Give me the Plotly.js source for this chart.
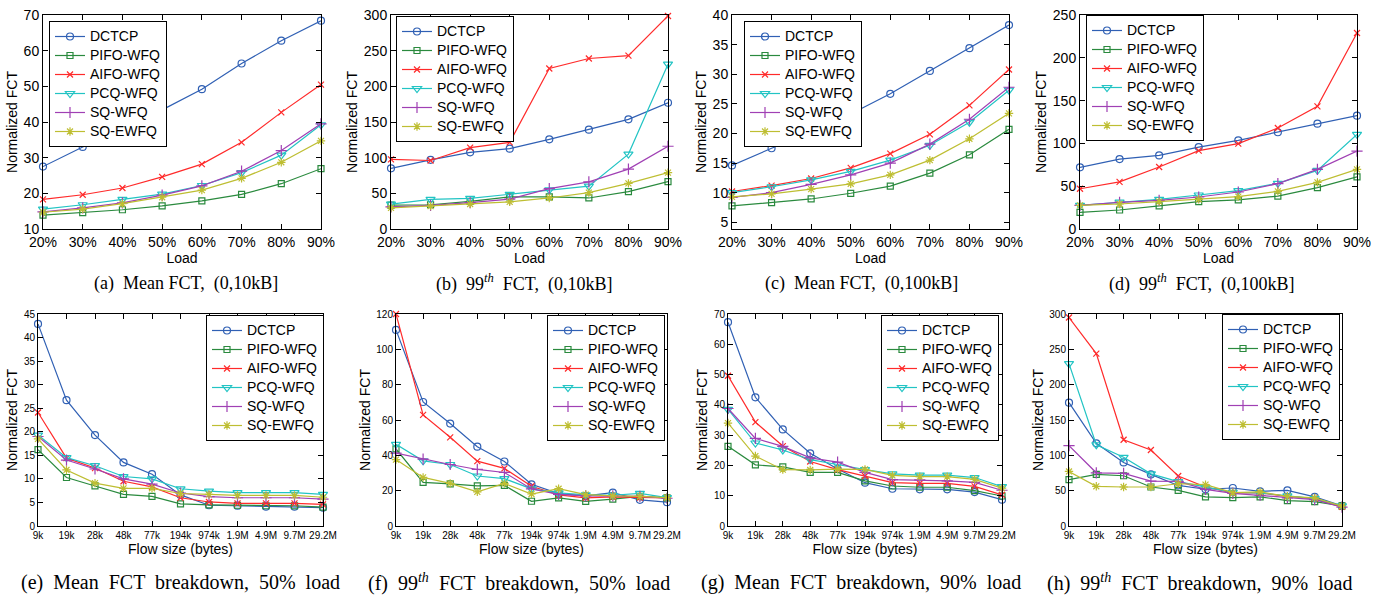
<!DOCTYPE html>
<html>
<head>
<meta charset="utf-8">
<script src="https://cdn.plot.ly/plotly-3.0.1.min.js"></script>
<style>html,body{margin:0;padding:0;background:#fff;}#chart{width:1383px;height:595px;}</style>
</head>
<body>
<div id="chart"></div>
<script>
// ---------- categories ----------
const schemes = ['DCTCP','PIFO-WFQ','AIFO-WFQ','PCQ-WFQ','SQ-WFQ','SQ-EWFQ'];
const loads = ['20%','30%','40%','50%','60%','70%','80%','90%'];
const sizes = ['9k','19k','28k','48k','77k','194k','974k','1.9M','4.9M','9.7M','29.2M'];

// ---------- (a) Mean FCT, (0,10kB] ----------
const meanSmall = [
  [27.5,33.0,38.2,43.4,49.2,56.4,62.8,68.4],
  [13.9,14.6,15.4,16.5,17.9,19.7,22.7,26.9],
  [18.3,19.6,21.5,24.6,28.2,34.3,42.7,50.5],
  [15.6,16.8,18.3,19.8,22.2,25.8,30.7,39.2],
  [14.8,15.9,17.3,19.5,22.1,26.2,32.0,39.5],
  [14.7,15.6,17.1,18.9,20.9,24.2,28.7,34.7]
];
// ---------- (b) 99th FCT, (0,10kB] ----------
const tailSmall = [
  [85,97,107.5,112.6,125.7,139.3,153.7,177],
  [33.6,34,38.8,45,45,43.5,52.3,66.4],
  [97.5,96,114,121.5,225,239,243,298.6],
  [35,41.6,43,48.6,55,60,105,231],
  [31,33,37,42,56.5,66,84,116],
  [29.5,32,35,38,43.5,51,64,79]
];
// ---------- (c) Mean FCT, (0,100kB] ----------
const meanMid = [
  [14.6,17.5,20.2,23.3,26.7,30.55,34.4,38.3],
  [7.76,8.32,8.94,9.9,11.1,13.3,16.4,20.7],
  [10.2,11.2,12.4,14.2,16.6,19.85,24.75,30.8],
  [10.0,11.0,12.15,13.6,15.5,18.0,21.9,27.3],
  [9.2,10.0,11.4,13.0,15.0,18.2,22.4,27.8],
  [9.3,9.8,10.6,11.5,13.0,15.5,19.1,23.4]
];
// ---------- (d) 99th FCT, (0,100kB] ----------
const tailMid = [
  [72,81.7,86,95.7,103.6,113,123,132.4],
  [19.5,22.2,26.9,32,34,38.5,48.3,61],
  [47,55,72.4,91.5,99.7,118,143.3,229],
  [27.6,31.5,34.7,39.7,44.8,53.3,68.5,110.6],
  [27.6,31,33.5,37.4,43.2,53,69.7,91],
  [27.6,29.2,32,34.7,37.8,44,54.5,69.7]
];
// ---------- (e) Mean FCT breakdown, 50% load ----------
const meanBd50 = [
  [42.9,26.7,19.3,13.5,11.0,6.6,4.4,4.3,4.1,4.1,3.9],
  [16.2,10.3,8.5,6.7,6.3,4.7,4.5,4.4,4.3,4.3,4.0],
  [24.1,14.4,12.3,9.5,8.3,6.0,5.1,4.8,4.8,4.8,4.6],
  [19.3,14.5,12.8,10.5,10.0,7.9,7.4,7.1,7.1,7.1,6.7],
  [19.0,14.0,12.1,10.0,8.9,7.0,6.25,6.0,6.0,6.0,5.7],
  [18.5,11.9,9.1,8.0,8.0,6.9,6.7,6.5,6.5,6.5,6.1]
];
// ---------- (f) 99th FCT breakdown, 50% load ----------
const tailBd50 = [
  [111,70.2,58,44.9,36.5,23.6,18.3,17,18.9,14.8,13.5],
  [43.6,24.7,23.8,22.7,23,14,15.9,13.9,15.2,16.8,15.9],
  [120,62.9,50.2,36.7,32.6,22.5,17.6,15.9,16.5,16.1,15.9],
  [46.2,36.9,34.8,28.3,26.8,21,18.7,17.6,17.4,18.5,16.1],
  [41.2,37.8,34.8,32,30.3,21,17.9,17,17,16.8,15.7],
  [37.6,27.5,24.1,19.3,24.1,18.1,21.1,17.8,17,16.8,16.1]
];
// ---------- (g) Mean FCT breakdown, 90% load ----------
const meanBd90 = [
  [67.3,42.5,31.9,24.0,18.8,14.3,12.3,12.1,12.1,11.2,8.7],
  [26.3,20.2,19.5,17.7,17.7,14.9,13.2,12.8,12.8,11.7,9.9],
  [49.6,34.3,26.4,21.3,18.6,16.5,14.3,14.1,14.1,13.1,10.3],
  [38.5,27.4,25.1,21.9,20.3,18.6,17.2,16.8,16.8,16.0,13.0],
  [38.8,28.9,26.3,22.5,21.1,17.7,15.3,15.2,14.9,14.4,11.8],
  [34.0,23.1,18.6,18.5,18.8,18.7,16.7,16.3,16.3,15.4,12.5]
];
// ---------- (h) 99th FCT breakdown, 90% load ----------
const tailBd90 = [
  [174.5,117,89.9,73,57.4,52,53.8,49.1,50.5,41.2,28.5],
  [65.5,73,71.1,55.2,50.5,41.2,40.2,41.2,36,34.6,28.5],
  [295,244,122,107.6,70.7,55.2,46.7,46.7,42,38.8,27.1],
  [229.8,115,97.2,73.8,62.7,54.7,47.7,46.7,42.6,38.8,28.5],
  [113.7,75.3,74.4,63.6,63.2,51.9,46.3,43.5,39.8,37.4,26.7],
  [77.2,56.2,55.2,55.2,59.8,58.5,47.3,48.2,42,39.8,28]
];

// ---------- styling ----------
const colors = ['#3060b4','#2a8a3e','#ff2a2a','#22c4c4','#a040b4','#bebe32'];
const symbols = ['circle-open','square-open','x-thin-open','triangle-down-open','cross-thin-open','asterisk-open'];
const msizes = [7,6,6,8,8,7];

const W = 1383, H = 595;
const px = v => v / W;
const py = v => 1 - v / H;
const SP = ' &nbsp;';

const panels = [
  {cats: loads, data: meanSmall, box:[43,15,321,229], yr:[10,70], dt:10, t0:10, leg:[49,21], la:'left', xt:'Load', big:true,
   cap:'(a)' + SP + 'Mean FCT,' + SP + '(0,10kB]', cx:186, cy:283},
  {cats: loads, data: tailSmall, box:[391,15,668,229], yr:[0,300], dt:50, t0:0, leg:[396,16], la:'left', xt:'Load', big:true,
   cap:'(b)' + SP + '99<sup><i>th</i></sup>' + SP + 'FCT,' + SP + '(0,10kB]', cx:524, cy:283},
  {cats: loads, data: meanMid, box:[732,15,1009,229], yr:[3.87,40], dt:5, t0:5, leg:[744,21], la:'left', xt:'Load', big:true,
   cap:'(c)' + SP + 'Mean FCT,' + SP + '(0,100kB]', cx:861, cy:283},
  {cats: loads, data: tailMid, box:[1080,15,1357,229], yr:[0,250], dt:50, t0:0, leg:[1086,15], la:'left', xt:'Load', big:true,
   cap:'(d)' + SP + '99<sup><i>th</i></sup>' + SP + 'FCT,' + SP + '(0,100kB]', cx:1201, cy:283},
  {cats: sizes, data: meanBd50, box:[38,314,323,526], yr:[0,45], dt:5, t0:0, leg:[324,315], la:'right', xt:'Flow size (bytes)', big:false,
   cap:'(e)' + SP + 'Mean' + SP + 'FCT' + SP + 'breakdown,' + SP + '50%' + SP + 'load', cx:180, cy:582},
  {cats: sizes, data: tailBd50, box:[396,314,667,526], yr:[0,120], dt:20, t0:0, leg:[665,315], la:'right', xt:'Flow size (bytes)', big:false,
   cap:'(f)' + SP + '99<sup><i>th</i></sup>' + SP + 'FCT' + SP + 'breakdown,' + SP + '50%' + SP + 'load', cx:519, cy:582},
  {cats: sizes, data: meanBd90, box:[728,314,1002,526], yr:[0,70], dt:10, t0:0, leg:[999,315], la:'right', xt:'Flow size (bytes)', big:false,
   cap:'(g)' + SP + 'Mean' + SP + 'FCT' + SP + 'breakdown,' + SP + '90%' + SP + 'load', cx:861, cy:582},
  {cats: sizes, data: tailBd90, box:[1069,314,1342,526], yr:[0,300], dt:50, t0:0, leg:[1340,314], la:'right', xt:'Flow size (bytes)', big:false,
   cap:'(h)' + SP + '99<sup><i>th</i></sup>' + SP + 'FCT' + SP + 'breakdown,' + SP + '90%' + SP + 'load', cx:1200, cy:582}
];

const traces = [];
const layout = {
  width: W, height: H,
  margin: {l:0, r:0, t:0, b:0},
  paper_bgcolor: 'white', plot_bgcolor: 'white',
  font: {family: 'Liberation Sans, Arial, sans-serif', color: 'black'},
  annotations: [],
  showlegend: true
};

panels.forEach((p, i) => {
  const n = i + 1;
  const sfx = n === 1 ? '' : String(n);
  const legKey = 'legend' + sfx;
  p.data.forEach((vals, s) => {
    traces.push({
      type: 'scatter', mode: 'lines+markers',
      x: p.cats, y: vals,
      name: '<span style="font-size:14px">' + schemes[s] + '</span>',
      xaxis: 'x' + sfx, yaxis: 'y' + sfx,
      legend: legKey,
      cliponaxis: false,
      line: {color: colors[s], width: 1.2},
      marker: {symbol: symbols[s], size: msizes[s], color: colors[s], line: {color: colors[s], width: 1.2}}
    });
  });
  const tickSize = p.big ? 14 : 10;
  const common = {
    showline: true, mirror: 'ticks', linecolor: 'black', linewidth: 1,
    ticks: 'inside', ticklen: 5, tickcolor: 'black', tickwidth: 1,
    showgrid: false, zeroline: false, automargin: false,
    tickfont: {size: tickSize, color: 'black'}
  };
  layout['xaxis' + sfx] = Object.assign({}, common, {
    domain: [px(p.box[0]), px(p.box[2])], anchor: 'y' + sfx,
    type: 'category', range: [0, p.cats.length - 1],
    title: {text: p.xt, font: {size: 14}, standoff: 0}
  });
  layout['yaxis' + sfx] = Object.assign({}, common, {
    domain: [py(p.box[3]), py(p.box[1])], anchor: 'x' + sfx,
    range: p.yr, dtick: p.dt, tick0: p.t0,
    title: {text: 'Normalized FCT', font: {size: 14}, standoff: 2}
  });
  layout[legKey] = {
    x: px(p.leg[0]), y: py(p.leg[1]), xanchor: p.la, yanchor: 'top',
    bgcolor: 'white', bordercolor: 'black', borderwidth: 1,
    font: {size: 11, color: 'black'}, tracegroupgap: 0, itemwidth: 30
  };
  layout.annotations.push({
    xref: 'paper', yref: 'paper', x: px(p.cx), y: py(p.cy),
    xanchor: 'center', yanchor: 'middle', showarrow: false,
    text: p.cap, font: {family: 'Liberation Serif, Times New Roman, serif', size: p.big ? 18 : 20, color: 'black'}
  });
});

Plotly.newPlot('chart', traces, layout, {displayModeBar: false, staticPlot: true});
</script>
</body>
</html>
